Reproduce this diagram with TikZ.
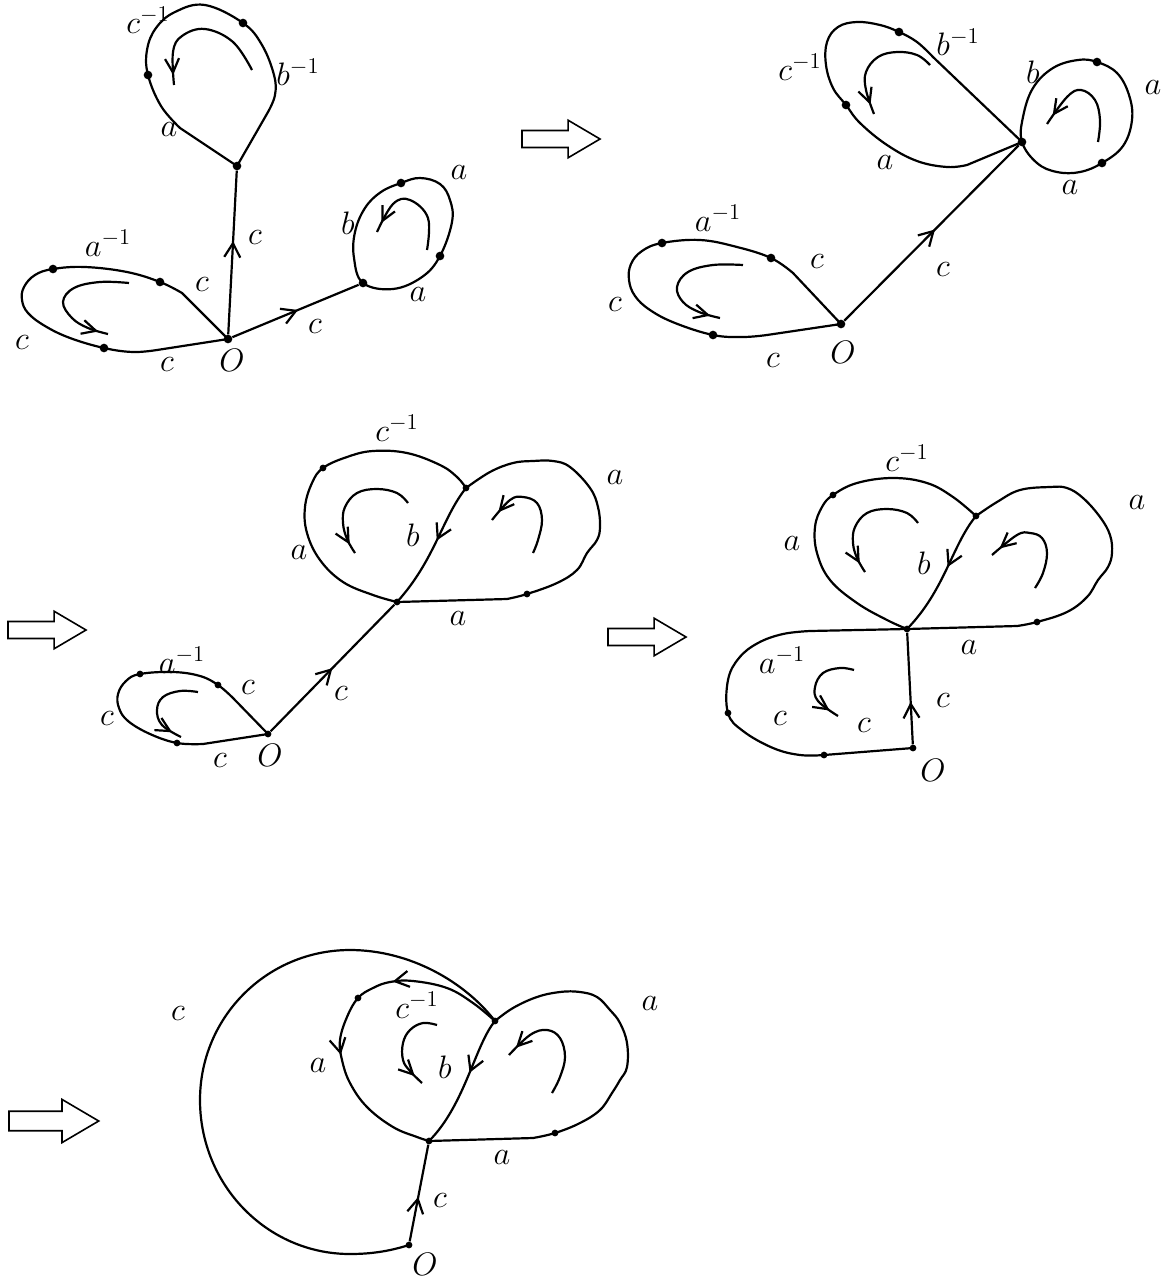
\documentclass[tikz,border=0pt]{standalone}
\usetikzlibrary{arrows.meta,decorations.markings}
\begin{document}
\begin{tikzpicture}[x=0.5pt,y=-0.5pt, tension=0.65,
  every node/.style={font=\LARGE, scale=0.94, inner sep=0pt},
  vdot/.style={circle,fill,inner sep=0pt,minimum size=4.6pt},
  sdot/.style={circle,fill,inner sep=0pt,minimum size=3.6pt},
  ln/.style={line width=1.1pt, line join=round},
  swirl/.style={line width=1.1pt, postaction={decorate}, decoration={markings, mark=at position -5pt with {\arrow{Straight Barb[length=7pt,width=7pt]}}}},
  midarrow/.style={postaction={decorate},decoration={markings,mark=at position #1 with {\arrow{Straight Barb[length=7pt,width=8pt]}}}},
  blockarrow/.pic={\draw[line width=0.8pt] (0,-9) -- (49,-9) -- (49,-20) -- (83,0) -- (49,20) -- (49,9) -- (0,9) -- cycle;}
]
\useasboundingbox (0,0) rectangle (1171,1280);

% ================= Panel 1 =================
\node[vdot] (O1) at (228,339) {};
\node[vdot] (T1) at (237,166) {};
\node[vdot] (R1) at (363,283) {};
\node[vdot] (t1a) at (148,75) {};
\node[vdot] (t1b) at (243,23) {};
\node[vdot] (r1a) at (401,183) {};
\node[vdot] (r1b) at (440,256) {};
\node[vdot] (l1a) at (160,282) {};
\node[vdot] (l1b) at (53,269) {};
\node[vdot] (l1c) at (104,348) {};

\draw[ln] (T1.center) -- plot[smooth] coordinates {(180,128) (161,106) (t1a.center) (147,50) (156,28) (175,12) (205,5) (t1b.center) (262,45) (274,75) (275,95) (268,112)} -- (T1.center);
\draw[ln] (O1.center) -- plot[smooth] coordinates {(182,293) (l1a.center) (127,272) (85,267) (l1b.center) (35,275) (24,287) (22,300) (28,313) (45,326) (70,338) (l1c.center) (133,352) (157,350)} -- (O1.center);
\draw[ln, midarrow=0.57] (O1) -- (T1);
\draw[ln, midarrow=0.52] (O1) -- (R1);
\draw[ln] plot[smooth cycle] coordinates {(R1.center) (354,258) (355,232) (365,208) (381,192) (r1a.center) (420,178) (440,184) (450,200) (452,222) (r1b.center) (422,277) (393,289)};

\draw[swirl] plot[smooth] coordinates {(252,70) (233,42) (205,29) (182,36) (173,52) (174,85)};
\draw[swirl] plot[smooth] coordinates {(427,250) (428,218) (410,200) (393,204) (377,232)};
\draw[swirl] plot[smooth] coordinates {(129,283) (100,282) (74,288) (63,302) (72,318) (88,328) (108,334)};

\node (p1l1) at (148,20) {$c^{-1}$};
\node (p1l2) at (298,72) {$b^{-1}$};
\node (p1l3) at (169,130) {$a$};
\node (p1l4) at (255,238) {$c$};
\node (p1l5) at (315,327) {$c$};
\node (p1l6) at (459,173) {$a$};
\node (p1l7) at (348,223) {$b$};
\node (p1l8) at (418,295) {$a$};
\node (p1l9) at (108,243) {$a^{-1}$};
\node (p1l10) at (202,285) {$c$};
\node (p1l11) at (22,343) {$c$};
\node (p1l12) at (167,365) {$c$};
\node (p1l13) at (232,360) {$O$};

\pic (ar1) at (522,139) {blockarrow};

% ================= Panel 2 =================
\node[vdot] (O2) at (841,324) {};
\node[vdot] (V2) at (1022,142) {};
\node[vdot] (l2a) at (771,258) {};
\node[vdot] (l2b) at (662,243) {};
\node[vdot] (l2c) at (713,335) {};
\node[vdot] (u2a) at (899,32) {};
\node[vdot] (u2b) at (846,105) {};
\node[vdot] (r2a) at (1097,62) {};
\node[vdot] (r2b) at (1102,163) {};

\draw[ln] (O2.center) -- plot[smooth] coordinates {(793,273) (l2a.center) (737,247) (700,240) (l2b.center) (642,251) (631,264) (629,280) (635,296) (650,310) (675,323) (l2c.center) (743,337) (767,335)} -- (O2.center);
\draw[ln, midarrow=0.52] (O2) -- (V2);
\draw[ln] (V2.center) -- plot[smooth] coordinates {(933,57) (917,42) (u2a.center) (880,25) (857,22) (838,27) (827,42) (826,65) (833,88) (u2b.center) (860,123) (887,145) (917,161) (947,167) (967,165)} -- (V2.center);
\draw[ln] plot[smooth cycle] coordinates {(V2.center) (1023,117) (1033,88) (1053,68) (1078,60) (r2a.center) (1117,73) (1129,95) (1132,120) (1123,146) (r2b.center) (1080,172) (1057,172) (1037,163)};

\draw[swirl] plot[smooth] coordinates {(743,265) (713,265) (688,272) (677,287) (683,302) (699,312) (720,318)};
\draw[swirl] plot[smooth] coordinates {(930,65) (917,55) (897,52) (878,57) (866,72) (866,90) (874,114)};
\draw[swirl] plot[smooth] coordinates {(1098,142) (1100,120) (1095,100) (1081,90) (1067,97) (1047,124)};

\node (p2l1) at (718,218) {$a^{-1}$};
\node (p2l2) at (817,262) {$c$};
\node (p2l3) at (615,305) {$c$};
\node (p2l4) at (773,360) {$c$};
\node (p2l5) at (843,352) {$O$};
\node (p2l6) at (943,270) {$c$};
\node (p2l7) at (800,67) {$c^{-1}$};
\node (p2l8) at (958,42) {$b^{-1}$};
\node (p2l9) at (1033,72) {$b$};
\node (p2l10) at (1153,88) {$a$};
\node (p2l11) at (1070,188) {$a$};
\node (p2l12) at (885,163) {$a$};

% ================= Panel 3 =================
\pic (ar2) at (8,630) {blockarrow};

\node[sdot] (O3) at (268,734) {};
\node[sdot] (V3) at (397,602) {};
\node[sdot] (W3) at (466,488) {};
\node[sdot] (l3a) at (218,685) {};
\node[sdot] (l3b) at (140,674) {};
\node[sdot] (l3c) at (177,743) {};
\node[sdot] (u3a) at (323,468) {};
\node[sdot] (u3b) at (527,594) {};

\draw[ln] (O3.center) -- plot[smooth] coordinates {(233,698) (l3a.center) (200,676) (173,672) (l3b.center) (126,681) (118,694) (119,708) (128,721) (150,734) (l3c.center) (203,744)} -- (O3.center);
\draw[ln, midarrow=0.5] (O3) -- (V3);
\draw[ln] plot[smooth] coordinates {(V3.center) (373,595) (343,582) (320,560) (307,533) (305,507) (312,483) (u3a.center) (347,457) (373,451) (407,453) (440,465) (457,477) (W3.center)};
\draw[ln, midarrow=0.45] (W3.center) .. controls (442,518) and (435,560) .. (V3.center);
\draw[ln] plot[smooth] coordinates {(W3.center) (490,472) (513,463) (533,461) (553,461) (570,467) (590,488) (598,507) (600,527) (597,540) (587,553) (577,570) (557,583) (u3b.center) (507,599)} -- (V3.center);

\draw[swirl] plot[smooth] coordinates {(408,503) (397,493) (377,489) (357,493) (345,507) (343,523) (347,539) (355,553)};
\draw[swirl] plot[smooth] coordinates {(533,553) (538,540) (542,520) (537,503) (523,497) (510,500) (492,520)};
\draw[swirl] plot[smooth] coordinates {(198,692) (180,691) (163,697) (157,710) (162,725) (181,737)};

\node (p3l1) at (182,660) {$a^{-1}$};
\node (p3l2) at (248,687) {$c$};
\node (p3l3) at (107,718) {$c$};
\node (p3l4) at (220,760) {$c$};
\node (p3l5) at (270,755) {$O$};
\node (p3l6) at (341,693) {$c$};
\node (p3l7) at (397,428) {$c^{-1}$};
\node (p3l8) at (615,477) {$a$};
\node (p3l9) at (299,552) {$a$};
\node (p3l10) at (413,535) {$b$};
\node (p3l11) at (458,618) {$a$};

% ================= Panel 4 =================
\pic (ar3) at (608,637) {blockarrow};

\node[sdot] (O4) at (913,748) {};
\node[sdot] (V4) at (907,629) {};
\node[sdot] (W4) at (976,516) {};
\node[sdot] (u4a) at (833,495) {};
\node[sdot] (u4b) at (1037,622) {};
\node[sdot] (l4a) at (728,713) {};
\node[sdot] (l4b) at (824,755) {};

\draw[ln] (V4.center) -- plot[smooth] coordinates {(810,631) (783,634) (758,643) (739,658) (728,680) (l4a.center) (743,731) (773,748) (800,755) (l4b.center)} -- (O4.center);
\draw[ln, midarrow=0.38] (O4) -- (V4);
\draw[ln] plot[smooth] coordinates {(V4.center) (887,620) (857,603) (830,580) (817,553) (815,527) (822,507) (u4a.center) (857,483) (893,478) (927,483) (953,497) (W4.center)};
\draw[ln, midarrow=0.44] (W4.center) .. controls (952,545) and (945,590) .. (V4.center);
\draw[ln] plot[smooth] coordinates {(W4.center) (997,502) (1020,490) (1050,487) (1067,488) (1083,498) (1100,517) (1110,535) (1112,553) (1108,567) (1098,580) (1087,597) (1067,612) (u4b.center) (1017,626)} -- (V4.center);

\draw[swirl] plot[smooth] coordinates {(918,523) (907,513) (887,509) (867,513) (855,527) (853,543) (857,558) (865,572)};
\draw[swirl] plot[smooth] coordinates {(1035,588) (1043,573) (1047,553) (1042,538) (1030,533) (1017,535) (992,555)};
\draw[swirl] plot[smooth] coordinates {(854,670) (840,668) (823,673) (815,687) (818,701) (838,716)};

\node (p4l1) at (907,458) {$c^{-1}$};
\node (p4l2) at (1137,502) {$a$};
\node (p4l3) at (792,543) {$a$};
\node (p4l4) at (924,563) {$b$};
\node (p4l5) at (969,647) {$a$};
\node (p4l6) at (782,660) {$a^{-1}$};
\node (p4l7) at (780,718) {$c$};
\node (p4l8) at (864,725) {$c$};
\node (p4l9) at (933,770) {$O$};
\node (p4l10) at (943,700) {$c$};

% ================= Panel 5 =================
\pic[scale=1.15] (ar4) at (9,1121) {blockarrow};

\node[sdot] (O5) at (409,1245) {};
\node[sdot] (V5) at (429,1141) {};
\node[sdot] (W5) at (495,1021) {};
\node[sdot] (u5a) at (358,998) {};
\node[sdot] (u5b) at (555,1133) {};

\draw[ln, midarrow=0.46] (O5) -- (V5);
\draw[ln] (O5.center) .. controls (390,1251) and (372,1254) .. (350,1254)
   .. controls (267,1254) and (200,1185) .. (200,1100)
   .. controls (200,1017) and (267,950) .. (350,950)
   .. controls (410,950) and (465,982) .. (W5.center);
\draw[ln, postaction={decorate}, decoration={markings,
    mark=at position 0.33 with {\arrow{Straight Barb[length=7pt,width=8pt]}},
    mark=at position 0.62 with {\arrow{Straight Barb[length=7pt,width=8pt]}}}]
  plot[smooth] coordinates {(W5.center) (473,1003) (447,988) (413,981) (390,982) (373,988) (u5a.center) (347,1017) (340,1040) (342,1060) (350,1083) (367,1107) (393,1127) (417,1137) (V5.center)};
\draw[ln, midarrow=0.42] (W5.center) .. controls (475,1045) and (465,1105) .. (V5.center);
\draw[ln] plot[smooth] coordinates {(W5.center) (513,1008) (537,997) (560,992) (580,992) (597,997) (610,1010) (620,1023) (627,1043) (627,1067) (620,1080) (612,1093) (600,1110) (580,1123) (u5b.center) (533,1138)} -- (V5.center);

\draw[swirl] plot[smooth] coordinates {(437,1025) (423,1023) (410,1030) (403,1043) (403,1060) (410,1071) (422,1083)};
\draw[swirl] plot[smooth] coordinates {(552,1093) (560,1077) (565,1057) (560,1038) (547,1030) (530,1035) (509,1055)};

\node (p5l1) at (178,1013) {$c$};
\node (p5l2) at (417,1005) {$c^{-1}$};
\node (p5l3) at (650,1003) {$a$};
\node (p5l4) at (318,1065) {$a$};
\node (p5l5) at (445,1067) {$b$};
\node (p5l6) at (502,1157) {$a$};
\node (p5l7) at (425,1264) {$O$};
\node (p5l8) at (440,1200) {$c$};
\end{tikzpicture}
\end{document}
